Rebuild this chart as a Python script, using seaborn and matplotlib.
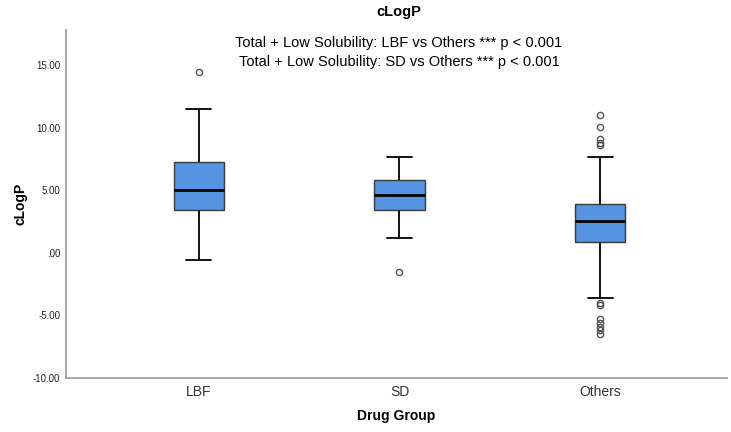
import numpy as np
import pandas as pd
import matplotlib
matplotlib.use("Agg")
import matplotlib.pyplot as plt
import seaborn as sns

# groups and values (box stats placed exactly, fillers in between)
groups = ["LBF", "SD", "Others"]
lbf_vals = [-0.6, 1.5, 3.45, 4.2, 5.05, 6.2, 7.3, 11.5, 14.5]
sd_vals = [-1.55, 1.2, 3.45, 4.0, 4.6, 5.2, 5.85, 6.8, 7.7]
others_vals = [-6.5, -6.2, -5.9, -5.6, -5.3, -4.2, -4.0, -3.6, -1.5,
               0.88, 0.95, 1.1, 1.35, 1.6, 1.75, 2.0, 2.2, 2.45,
               2.57, 2.65, 2.8, 2.95, 3.1, 3.3, 3.45, 3.6, 3.8,
               3.94, 4.5, 5.4, 6.3, 7.64, 8.6, 8.8, 9.1, 10.05, 11.0]
ytick_vals = [-10, -5, 0, 5, 10, 15]
ytick_labels = ["-10.00", "-5.00", ".00", "5.00", "10.00", "15.00"]
subtitle = ["Total + Low Solubility: LBF vs Others *** p < 0.001",
            "Total + Low Solubility: SD vs Others *** p < 0.001"]

df = pd.DataFrame({
    "group": ["LBF"] * len(lbf_vals) + ["SD"] * len(sd_vals) + ["Others"] * len(others_vals),
    "clogp": lbf_vals + sd_vals + others_vals,
})

sns.set_style("white")
plt.rcParams["font.family"] = ["Liberation Sans", "DejaVu Sans"]
plt.rcParams["text.color"] = "black"
plt.rcParams["axes.labelcolor"] = "black"

fig = plt.figure(figsize=(7.31, 4.32), dpi=100)
ax = fig.add_axes([0.090, 0.125, 0.905, 0.806])

sns.boxplot(data=df, x="group", y="clogp", order=groups, ax=ax,
            color="#5494E0", width=0.25, saturation=1,
            boxprops=dict(edgecolor="#3a3a3a", linewidth=1.0),
            medianprops=dict(color="black", linewidth=2.0),
            whiskerprops=dict(color="black", linewidth=1.3),
            capprops=dict(color="black", linewidth=1.3),
            flierprops=dict(marker="o", markerfacecolor="none",
                            markeredgecolor="#555555", markersize=4.5,
                            markeredgewidth=1.0))

ax.set_xlim(-0.663, 2.634)
ax.set_ylim(-10, 17.85)
ax.set_yticks(ytick_vals)
ax.set_yticklabels(ytick_labels, fontsize=7)
ax.tick_params(axis="x", labelsize=10, length=0, pad=5, labelcolor="#333333")
ax.tick_params(axis="y", length=0, pad=4, labelcolor="#222222")

ax.set_xlabel("Drug Group", fontsize=10, fontweight="bold", labelpad=7)
ax.set_ylabel("cLogP", fontsize=10, fontweight="bold", labelpad=4)

sns.despine(ax=ax)
for side in ["left", "bottom"]:
    ax.spines[side].set_color("#999999")
    ax.spines[side].set_linewidth(1.2)

fig.text(0.5457, 0.972, "cLogP", ha="center", va="center", fontsize=10.5, fontweight="bold")
fig.text(0.5457, 0.900, subtitle[0], ha="center", va="center", fontsize=10.5)
fig.text(0.5457, 0.856, subtitle[1], ha="center", va="center", fontsize=10.5)

fig.savefig("out.png", dpi=100)
